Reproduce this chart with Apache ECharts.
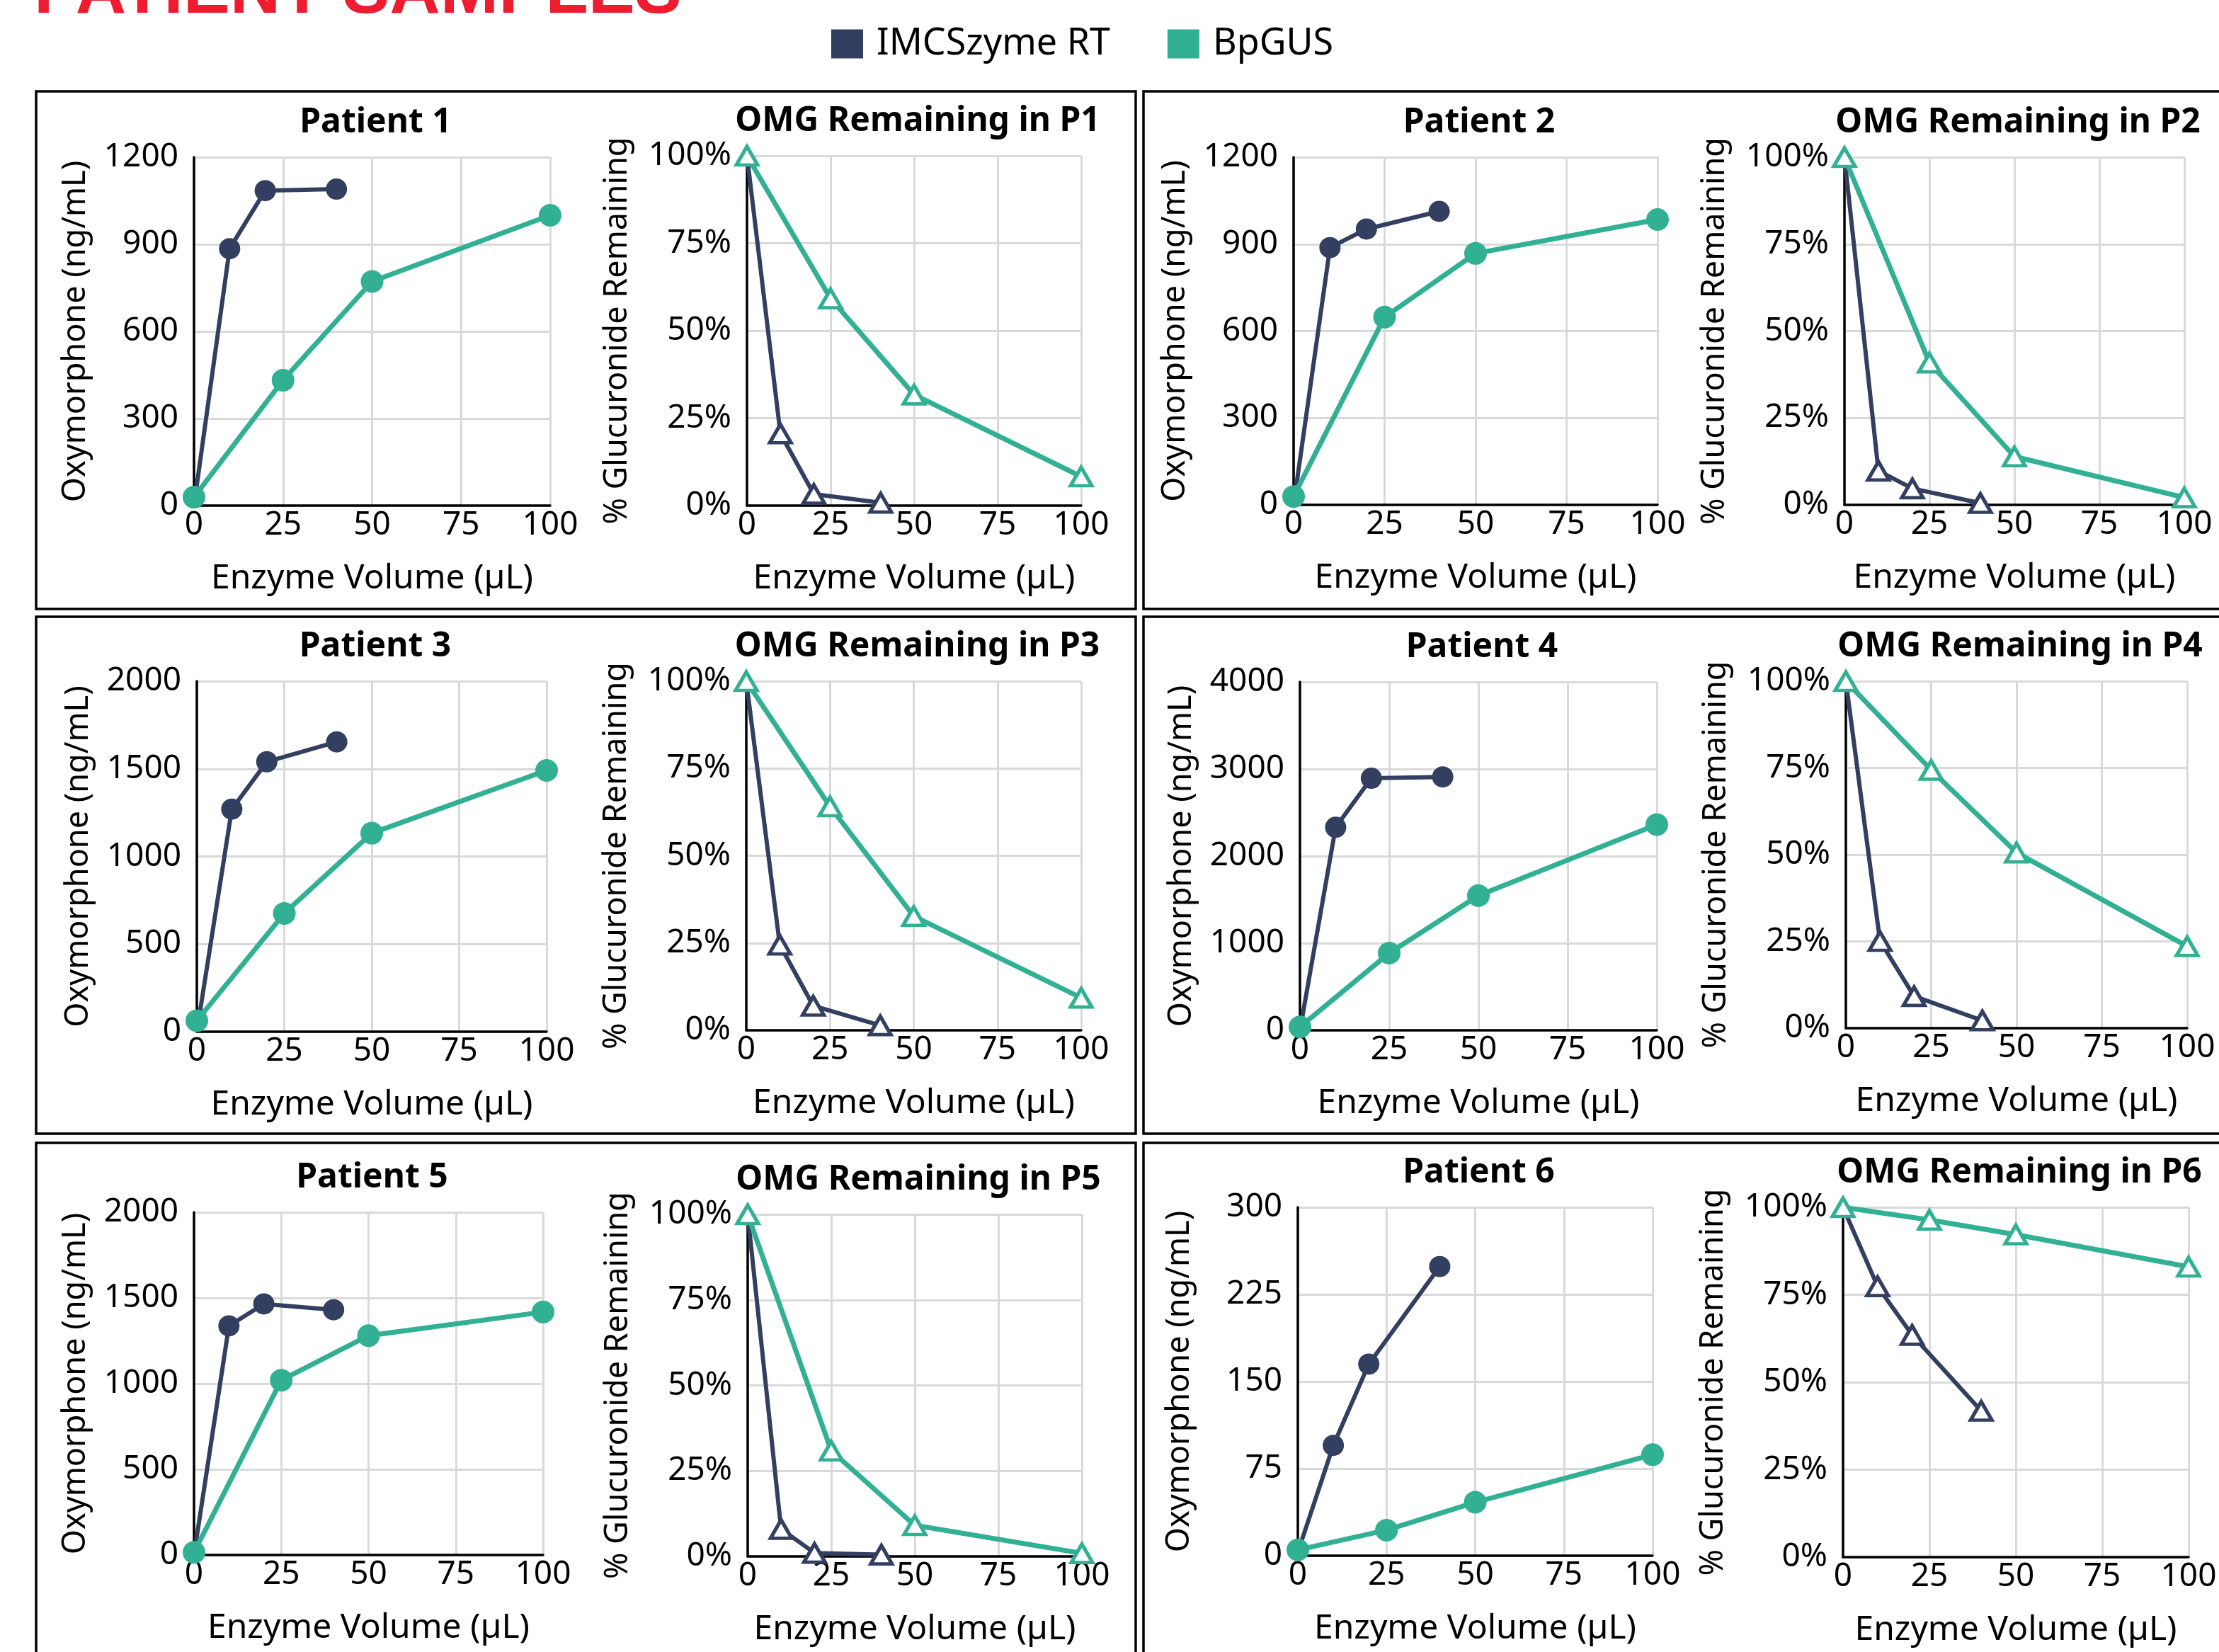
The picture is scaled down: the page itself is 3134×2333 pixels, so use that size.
<!DOCTYPE html>
<html>
<head>
<meta charset="utf-8">
<title>Patient samples</title>
<script src="https://cdn.jsdelivr.net/npm/echarts@6/dist/echarts.min.js"></script>
<style>
html, body { margin: 0; padding: 0; background: #fff; }
#main { width: 3134px; height: 2333px; }
</style>
</head>
<body>
<div id="main"></div>
<script>
var NAVY = '#333F60';
var GREEN = '#31B093';
var FONT = 'Noto Sans';

var seriesNames = ['IMCSzyme RT', 'BpGUS'];
var patientNames = ['Patient 1', 'Patient 2', 'Patient 3', 'Patient 4', 'Patient 5', 'Patient 6'];
var omgTitles = ['OMG Remaining in P1', 'OMG Remaining in P2', 'OMG Remaining in P3',
                 'OMG Remaining in P4', 'OMG Remaining in P5', 'OMG Remaining in P6'];

// enzyme volumes (µL)
var imcsVolume = [0, 10, 20, 40];
var bpgusVolume = [0, 25, 50, 100];

// oxymorphone (ng/mL) and its axis max per patient
var oxyMax = [1200, 1200, 2000, 4000, 2000, 300];
var imcsOxy = [
	[0, 885, 1085, 1090],
	[0, 888, 952, 1013],
	[0, 1270, 1540, 1654],
	[0, 2331, 2894, 2909],
	[0, 1337, 1465, 1431],
	[3, 95, 165, 249]
];
var bpgusOxy = [
	[29, 432, 772, 1000],
	[29, 648, 868, 985],
	[63, 675, 1133, 1491],
	[39, 886, 1547, 2362],
	[15, 1020, 1280, 1418],
	[5, 22, 46, 87]
];

// % glucuronide remaining
var imcsOmg = [
	[100, 20.6, 3.3, 0.8],
	[100, 9.8, 4.7, 0.5],
	[100, 24.5, 7.0, 1.4],
	[100, 25.1, 9.2, 2.2],
	[100, 8.0, 1.0, 0.5],
	[100, 77.4, 63.5, 41.8]
];
var bpgusOmg = [
	[100, 59.2, 31.7, 8.3],
	[100, 40.9, 13.9, 2.1],
	[100, 64.1, 32.7, 9.3],
	[100, 74.4, 50.6, 23.6],
	[100, 30.9, 9.1, 0.9],
	[100, 96.4, 92.2, 83.0]
];

// plot rectangles [left, top, right, bottom], two per patient
var plotBoxes = [
	[274, 222, 777, 714], [1055, 220, 1527, 714],
	[1827, 222, 2341, 713], [2605, 222, 3085, 713],
	[278, 962, 772, 1457], [1054, 962, 1527, 1455],
	[1836, 963, 2340, 1455], [2607, 962, 3089, 1452],
	[274, 1712, 767, 2196], [1056, 1715, 1528, 2198],
	[1833, 1705, 2334, 2197], [2603, 1705, 3091, 2199]
];

// first point of the IMCSzyme curve sits under the BpGUS marker, so no symbol there
function pairs(xs, ys, hideFirst){
	var out = [];
	for (var i = 0; i < xs.length; i++) {
		if (i === 0 && hideFirst) {
			out.push({value: [xs[i], ys[i]], symbol: 'none'});
		} else {
			out.push([xs[i], ys[i]]);
		}
	}
	return out;
}

var grids = [], xAxes = [], yAxes = [], series = [], titles = [];

for (var k = 0; k < 12; k++) {
	var b = plotBoxes[k];
	var isOmg = k % 2 === 1;
	var p = Math.floor(k / 2);
	grids.push({left: b[0], top: b[1], width: b[2] - b[0], height: b[3] - b[1]});
	xAxes.push({
		gridIndex: k,
		type: 'value',
		min: 0, max: 100, interval: 25,
		name: 'Enzyme Volume (µL)',
		nameLocation: 'middle',
		nameGap: 79,
		nameTextStyle: {fontFamily: FONT, fontSize: 48, color: '#000'},
		axisLine: {show: true, lineStyle: {color: '#000', width: 3.5}},
		axisTick: {show: false},
		axisLabel: {fontFamily: FONT, fontSize: 46, color: '#000', margin: 5},
		splitLine: {show: true, lineStyle: {color: '#D9D9D9', width: 3}}
	});
	yAxes.push({
		gridIndex: k,
		type: 'value',
		min: 0,
		max: isOmg ? 100 : oxyMax[p],
		interval: isOmg ? 25 : oxyMax[p] / 4,
		name: isOmg ? '% Glucuronide Remaining' : 'Oxymorphone (ng/mL)',
		nameLocation: 'middle',
		nameRotate: 90,
		nameGap: isOmg ? 160 : 144,
		nameTextStyle: {fontFamily: FONT, fontSize: 45, color: '#000'},
		axisLine: {show: true, lineStyle: {color: '#000', width: 3.5}},
		axisTick: {show: false},
		axisLabel: {fontFamily: FONT, fontSize: 46, color: '#000', margin: 22,
			formatter: isOmg ? function(v){ return v + '%'; } : function(v){ return String(v); }},
		splitLine: {show: true, lineStyle: {color: '#D9D9D9', width: 3}}
	});
	titles.push({
		text: isOmg ? omgTitles[p] : patientNames[p],
		left: (b[0] + b[2]) / 2,
		top: b[1] - 78,
		textAlign: 'center',
		textStyle: {fontFamily: FONT, fontSize: 48, fontWeight: 'bold', color: '#000'}
	});
}

// circles first so the legend picks the filled style
for (var p = 0; p < 6; p++) {
	series.push({
		name: seriesNames[0], type: 'line', xAxisIndex: 2 * p, yAxisIndex: 2 * p,
		data: pairs(imcsVolume, imcsOxy[p], true),
		symbol: 'circle', symbolSize: 30, clip: false,
		lineStyle: {color: NAVY, width: 6},
		itemStyle: {color: NAVY}
	});
	series.push({
		name: seriesNames[1], type: 'line', xAxisIndex: 2 * p, yAxisIndex: 2 * p,
		data: pairs(bpgusVolume, bpgusOxy[p], false),
		symbol: 'circle', symbolSize: 32, clip: false,
		lineStyle: {color: GREEN, width: 7},
		itemStyle: {color: GREEN}
	});
}
for (var p = 0; p < 6; p++) {
	series.push({
		name: seriesNames[0], type: 'line', xAxisIndex: 2 * p + 1, yAxisIndex: 2 * p + 1,
		data: pairs(imcsVolume, imcsOmg[p], true),
		symbol: 'triangle', symbolSize: [30, 26], clip: false,
		lineStyle: {color: NAVY, width: 6},
		itemStyle: {color: '#fff', borderColor: NAVY, borderWidth: 5}
	});
	series.push({
		name: seriesNames[1], type: 'line', xAxisIndex: 2 * p + 1, yAxisIndex: 2 * p + 1,
		data: pairs(bpgusVolume, bpgusOmg[p], false),
		symbol: 'triangle', symbolSize: [30, 26], clip: false,
		lineStyle: {color: GREEN, width: 7},
		itemStyle: {color: '#fff', borderColor: GREEN, borderWidth: 5}
	});
}

// panel frames
var frames = [
	[51, 129, 1553, 731], [1615, 129, 1560, 731],
	[51, 871, 1553, 730], [1615, 871, 1560, 730],
	[51, 1614, 1553, 760], [1615, 1614, 1560, 760]
];
var graphics = [{
	type: 'text',
	left: 48, top: -59,
	style: {text: 'PATIENT SAMPLES', fill: '#ED1C2E',
		font: 'bold 99px "Liberation Sans"'}
}];
for (var f = 0; f < frames.length; f++) {
	graphics.push({
		type: 'rect',
		shape: {x: frames[f][0], y: frames[f][1], width: frames[f][2], height: frames[f][3]},
		style: {fill: null, stroke: '#000', lineWidth: 3.5},
		z: -1
	});
}

var chart = echarts.init(document.getElementById('main'));
chart.setOption({
	animation: false,
	backgroundColor: '#fff',
	title: titles,
	legend: {
		left: 1169, top: 31,
		itemWidth: 45, itemHeight: 41, itemGap: 81,
		icon: 'rect',
		data: [
			{name: seriesNames[0], itemStyle: {color: NAVY, borderWidth: 0}},
			{name: seriesNames[1], itemStyle: {color: GREEN, borderWidth: 0}}
		],
		textStyle: {fontFamily: FONT, fontSize: 52, color: '#000', lineHeight: 41,
			padding: [0, 0, 0, 14]}
	},
	graphic: graphics,
	grid: grids,
	xAxis: xAxes,
	yAxis: yAxes,
	series: series
});
</script>
</body>
</html>
